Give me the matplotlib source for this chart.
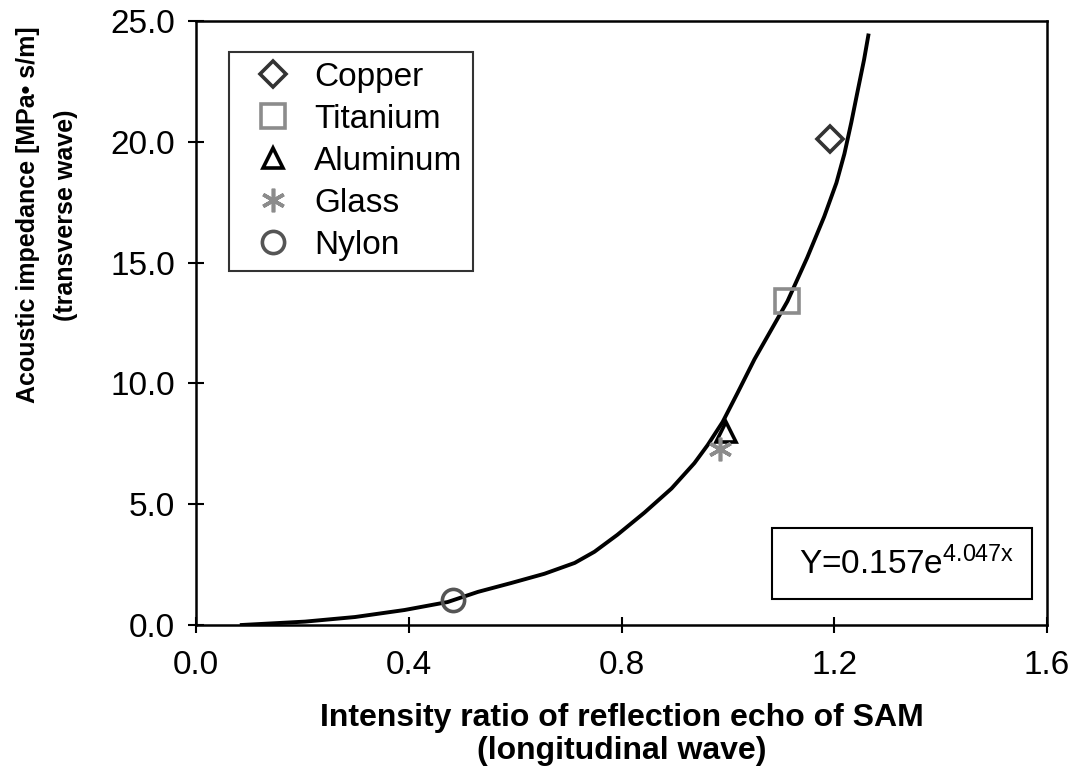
import matplotlib
matplotlib.use('Agg')
import matplotlib.pyplot as plt
from matplotlib.patches import Rectangle

plt.rcParams['font.family'] = ['Liberation Sans', 'DejaVu Sans']
plt.rcParams['mathtext.default'] = 'regular'

# measured points
materials = ['Copper', 'Titanium', 'Aluminum', 'Glass', 'Nylon']
ratio = [1.192, 1.112, 0.997, 0.986, 0.483]
impedance = [20.1, 13.4, 8.0, 7.3, 1.04]

# fitted curve
fit_x = [0.086, 0.205, 0.299, 0.392, 0.473, 0.530, 0.593, 0.655, 0.712, 0.749, 0.792,
         0.843, 0.894, 0.937, 0.962, 0.990, 1.018, 1.050, 1.112, 1.149, 1.181, 1.204,
         1.219, 1.232, 1.243, 1.256, 1.264]
fit_y = [0.0, 0.14, 0.33, 0.62, 0.95, 1.37, 1.74, 2.12, 2.57, 3.03, 3.73,
         4.65, 5.65, 6.7, 7.45, 8.4, 9.6, 11.0, 13.4, 15.2, 16.9, 18.3,
         19.5, 20.8, 22.0, 23.4, 24.4]

markers = ['D', 's', '^', (6, 2, 0), 'o']
colors = ['#333333', '#8c8c8c', '#000000', '#8c8c8c', '#555555']
sizes = [13, 17, 15, 17, 16]

fig = plt.figure(figsize=(10.73, 7.83), dpi=100)
ax = fig.add_axes([0.1827, 0.2018, 0.7931, 0.7714])

ax.plot(fit_x, fit_y, color='black', linewidth=2.8, zorder=2)

for name, x, y, m, c, s in zip(materials, ratio, impedance, markers, colors, sizes):
    ax.plot([x], [y], linestyle='none', marker=m, markersize=s,
            markerfacecolor='none', markeredgecolor=c, markeredgewidth=2.6,
            label=name, zorder=3)

ax.set_xlim(0, 1.6)
ax.set_ylim(0, 25)
ax.set_xticks([0.0, 0.4, 0.8, 1.2, 1.6])
ax.set_xticklabels(['0.0', '0.4', '0.8', '1.2', '1.6'])
ax.set_yticks([0, 5, 10, 15, 20, 25])
ax.set_yticklabels(['0.0', '5.0', '10.0', '15.0', '20.0', '25.0'])
ax.tick_params(direction='inout', length=12, width=1.5, labelsize=24)
ax.tick_params(axis='x', pad=12)
ax.tick_params(axis='y', pad=9)
for sp in ax.spines.values():
    sp.set_linewidth(1.8)

ax.set_xlabel('Intensity ratio of reflection echo of SAM\n(longitudinal wave)',
              fontweight='bold', fontsize=23, labelpad=16, linespacing=1.1)
fig.text(47 / 1073, 1 - 215 / 783, 'Acoustic impedance [MPa\u2022 s/m]\n(transverse wave)',
         rotation=90, ha='center', va='center', fontweight='bold', fontsize=18,
         linespacing=1.7)

leg = ax.legend(loc='upper left', bbox_to_anchor=(0.039, 0.949), borderaxespad=0,
                fontsize=24, frameon=True, fancybox=False, edgecolor='black',
                handlelength=2.0, handletextpad=0.25, labelspacing=0.33,
                borderpad=0.3, markerscale=1.0)
leg.get_frame().set_linewidth(1.5)

ax.add_patch(Rectangle((0.677, 0.043), 0.305, 0.118, transform=ax.transAxes,
                       facecolor='white', edgecolor='black', linewidth=1.5, zorder=4))
ax.text(0.835, 0.102, 'Y=0.157e$^{4.047x}$', transform=ax.transAxes,
        ha='center', va='center', fontsize=24, zorder=5)

fig.savefig('out.png', dpi=100)
